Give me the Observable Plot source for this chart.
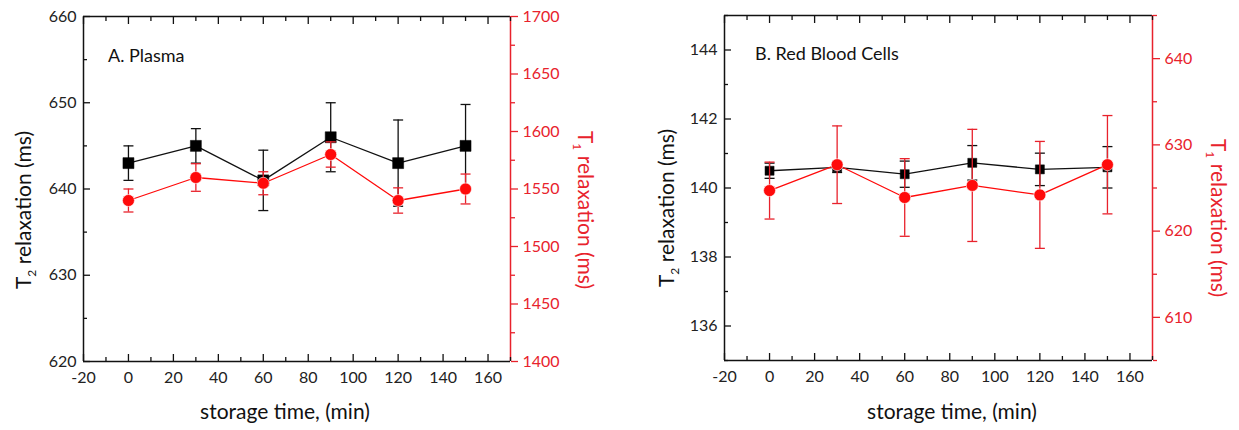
<!DOCTYPE html>
<html>
<head>
<meta charset="utf-8">
<script src="https://cdn.jsdelivr.net/npm/d3@7"></script>
<script src="https://cdn.jsdelivr.net/npm/@observablehq/plot@0.6"></script>
<style>
  body { margin: 0; background: #fff; }
  #chart { display: flex; width: 1239px; height: 430px; font-family: Lato, sans-serif; }
  #chart svg { overflow: visible; }
</style>
</head>
<body>
<div id="chart"></div>
<script>
// Storage times (min)
const times = [0, 30, 60, 90, 120, 150];

// Panel A: plasma
const plasmaT2 = [643, 645, 641, 646, 643, 645];
const plasmaT2Err = [2, 2, 3.5, 4, 5, 4.8];
const plasmaT1 = [1540, 1560, 1555, 1580, 1540, 1550];
const plasmaT1Err = [10, 12, 10, 11, 11, 13];

// Panel B: red blood cells
const rbcT2 = [140.5, 140.6, 140.4, 140.73, 140.54, 140.6];
const rbcT2Err = [0.22, 0.15, 0.38, 0.5, 0.47, 0.6];
const rbcT1 = [624.7, 627.7, 623.9, 625.3, 624.2, 627.7];
const rbcT1Err = [3.3, 4.5, 4.5, 6.5, 6.2, 5.7];

// Axis ticks
const xMajor = [-20, 0, 20, 40, 60, 80, 100, 120, 140, 160];
const xMinor = [-10, 10, 30, 50, 70, 90, 110, 130, 150, 170];
const plasmaT2Major = [620, 630, 640, 650, 660];
const plasmaT2Minor = [625, 635, 645, 655];
const plasmaT1Major = [1400, 1450, 1500, 1550, 1600, 1650, 1700];
const plasmaT1Minor = [1425, 1475, 1525, 1575, 1625, 1675];
const rbcT2Major = [136, 138, 140, 142, 144];
const rbcT2Minor = [135, 137, 139, 141, 143, 145];
const rbcT1Major = [610, 620, 630, 640];
const rbcT1Minor = [605, 615, 625, 635, 645];

const BLACK = "#111";
const RED = "#ff0a0a";
const RED_AXIS = "#e8222c";

// Horizontal error-bar cap drawn as a dot symbol
const capSymbol = { draw(ctx) { ctx.moveTo(-5, 0); ctx.lineTo(5, 0); } };

function panel(o) {
  const toLeft = d3.scaleLinear(o.y2Domain, o.yDomain);
  const t2 = times.map((t, i) => ({t, v: o.t2[i], lo: o.t2[i] - o.t2Err[i], hi: o.t2[i] + o.t2Err[i]}));
  const t1 = times.map((t, i) => ({
    t, v: toLeft(o.t1[i]), lo: toLeft(o.t1[i] - o.t1Err[i]), hi: toLeft(o.t1[i] + o.t1Err[i])
  }));
  const [x0, x1] = [-20, 170];

  const svg = Plot.plot({
    width: o.width,
    height: 430,
    marginLeft: o.margin[0],
    marginRight: o.margin[1],
    marginTop: o.margin[2],
    marginBottom: o.margin[3],
    style: {fontFamily: "Lato, sans-serif", background: "transparent"},
    x: {domain: [x0, x1], label: null},
    y: {domain: o.yDomain, label: null},
    marks: [
      // frame
      Plot.ruleX([x0], {stroke: BLACK, strokeWidth: 1.5}),
      Plot.ruleY([o.yDomain[0]], {stroke: BLACK, strokeWidth: 1.5}),
      Plot.ruleY([o.yDomain[1]], {stroke: BLACK, strokeWidth: 1.5}),
      Plot.ruleX([x1], {stroke: RED_AXIS, strokeWidth: 1.5}),
      // bottom axis
      Plot.axisX(xMajor, {anchor: "bottom", tickSize: 0, tickPadding: 10, fontSize: 16, color: "#222", tickFormat: d => String(d)}),
      Plot.axisX(xMajor, {anchor: "bottom", text: null, tickSize: -7, strokeWidth: 1.3, color: BLACK}),
      Plot.axisX(xMinor, {anchor: "bottom", text: null, tickSize: -4, strokeWidth: 1.3, color: BLACK}),
      // top axis (ticks only)
      Plot.axisX(xMajor, {anchor: "top", text: null, tickSize: -7, strokeWidth: 1.3, color: BLACK}),
      Plot.axisX(xMinor, {anchor: "top", text: null, tickSize: -4, strokeWidth: 1.3, color: BLACK}),
      // left axis
      Plot.axisY(o.yMajor, {anchor: "left", tickSize: 0, tickPadding: 7, fontSize: 16, color: "#222", tickFormat: d => String(d)}),
      Plot.axisY(o.yMajor, {anchor: "left", text: null, tickSize: -7, strokeWidth: 1.3, color: BLACK}),
      Plot.axisY(o.yMinor, {anchor: "left", text: null, tickSize: -4, strokeWidth: 1.3, color: BLACK}),
      // right axis (second quantity)
      Plot.axisY(o.y2Major.map(toLeft), {anchor: "right", tickSize: 7, tickPadding: 5, fontSize: 16, strokeWidth: 1.3,
        color: RED_AXIS, tickFormat: d => String(Math.round(toLeft.invert(d)))}),
      Plot.axisY(o.y2Minor.map(toLeft), {anchor: "right", text: null, tickSize: 4, strokeWidth: 1.3, color: RED_AXIS}),
      // T2 series
      Plot.line(t2, {x: "t", y: "v", stroke: BLACK, strokeWidth: 1.3}),
      Plot.ruleX(t2, {x: "t", y1: "lo", y2: "hi", stroke: BLACK, strokeWidth: 1.3}),
      Plot.dot(t2, {x: "t", y: "lo", symbol: capSymbol, stroke: BLACK, strokeWidth: 1.3}),
      Plot.dot(t2, {x: "t", y: "hi", symbol: capSymbol, stroke: BLACK, strokeWidth: 1.3}),
      Plot.dot(t2, {x: "t", y: "v", symbol: "square", r: o.squareR, fill: "#000", stroke: "#000", strokeWidth: 0.5}),
      // T1 series
      Plot.line(t1, {x: "t", y: "v", stroke: RED, strokeWidth: 1.3}),
      Plot.ruleX(t1, {x: "t", y1: "lo", y2: "hi", stroke: RED_AXIS, strokeWidth: 1.3}),
      Plot.dot(t1, {x: "t", y: "lo", symbol: capSymbol, stroke: RED_AXIS, strokeWidth: 1.3}),
      Plot.dot(t1, {x: "t", y: "hi", symbol: capSymbol, stroke: RED_AXIS, strokeWidth: 1.3}),
      Plot.dot(t1, {x: "t", y: "v", r: 6, fill: RED, stroke: "#fff", strokeWidth: 0.6})
    ]
  });

  const s = d3.select(svg);
  // panel title
  s.append("text").attr("x", o.title[1]).attr("y", o.title[2]).attr("text-anchor", "start")
    .attr("fill", "#111").style("font-size", "18px").text(o.title[0]);
  // x-axis title
  s.append("text").attr("x", o.xTitle[0]).attr("y", o.xTitle[1]).attr("text-anchor", "middle")
    .attr("fill", "#111").style("font-size", "21px").text("storage time, (min)");
  // y-axis titles with subscripts
  const yTitle = (x, y, rot, sub, fill) => {
    const t = s.append("text").attr("transform", `translate(${x},${y}) rotate(${rot})`)
      .attr("text-anchor", "middle").attr("fill", fill).style("font-size", "21px");
    t.append("tspan").text("T");
    t.append("tspan").attr("dy", 5).style("font-size", "12px").text(sub);
    t.append("tspan").attr("dy", -5).text(" relaxation (ms)");
  };
  yTitle(o.yTitle[0], o.yTitle[1], -90, "2", "#111");
  yTitle(o.y2Title[0], o.y2Title[1], 90, "1", RED_AXIS);
  return svg;
}

const chart = document.getElementById("chart");
chart.append(panel({
  width: 620, margin: [83, 110, 16, 69],
  yDomain: [620, 660], y2Domain: [1400, 1700],
  yMajor: plasmaT2Major, yMinor: plasmaT2Minor, y2Major: plasmaT1Major, y2Minor: plasmaT1Minor,
  t2: plasmaT2, t2Err: plasmaT2Err, t1: plasmaT1, t1Err: plasmaT1Err, squareR: 6.2,
  title: ["A. Plasma", 108, 62], xTitle: [285, 419], yTitle: [31, 210], y2Title: [578, 210]
}));
chart.append(panel({
  width: 619, margin: [104, 87, 15, 70],
  yDomain: [135, 145], y2Domain: [605, 645],
  yMajor: rbcT2Major, yMinor: rbcT2Minor, y2Major: rbcT1Major, y2Minor: rbcT1Minor,
  t2: rbcT2, t2Err: rbcT2Err, t1: rbcT1, t1Err: rbcT1Err, squareR: 5.1,
  title: ["B. Red Blood Cells", 135, 60], xTitle: [332, 419], yTitle: [54, 208], y2Title: [591, 218]
}));
</script>
</body>
</html>
